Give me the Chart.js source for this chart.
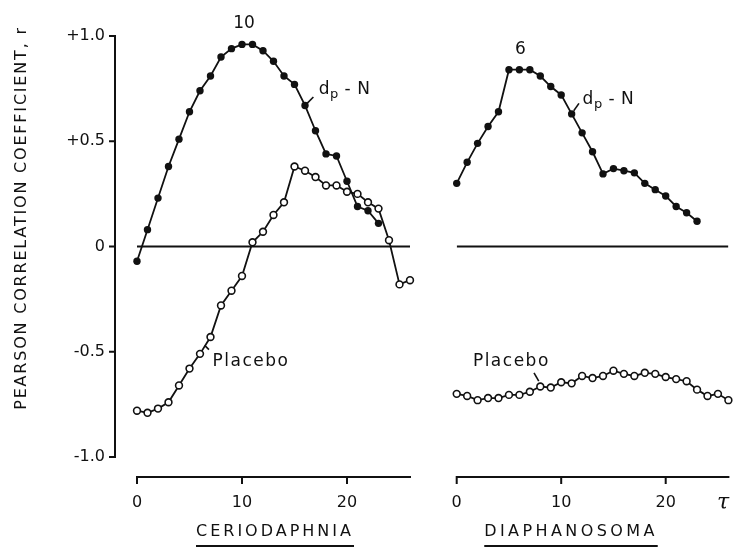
<!DOCTYPE html>
<html>
<head>
<meta charset="utf-8">
<title>Pearson correlation vs lag</title>
<script src="https://cdn.jsdelivr.net/npm/chart.js@4.4.1/dist/chart.umd.min.js"></script>
<style>
  html, body { margin: 0; padding: 0; background: #fff; }
  #wrap { position: relative; width: 734px; height: 548px; overflow: hidden; background: #fff; }
  #wrap canvas { position: absolute; top: 0; }
  #left { left: 0; }
  #right { left: 420px; }
</style>
</head>
<body>
<div id="wrap">
  <canvas id="left" width="420" height="548" style="width:420px;height:548px"></canvas>
  <canvas id="right" width="314" height="548" style="width:314px;height:548px"></canvas>
</div>
<script>
  // lag (tau) values, one step per point
  const lags = [0, 1, 2, 3, 4, 5, 6, 7, 8, 9, 10, 11, 12, 13, 14, 15, 16, 17, 18, 19, 20, 21, 22, 23, 24, 25, 26];

  // Ceriodaphnia: dp-N (filled) and placebo (open)
  const ceriodaphniaDpN = [-0.07, 0.08, 0.23, 0.38, 0.51, 0.64, 0.74, 0.81, 0.90, 0.94, 0.96, 0.96,
    0.93, 0.88, 0.81, 0.77, 0.67, 0.55, 0.44, 0.43, 0.31, 0.19, 0.17, 0.11];
  const ceriodaphniaPlacebo = [-0.78, -0.79, -0.77, -0.74, -0.66, -0.58, -0.51, -0.43, -0.28, -0.21, -0.14,
    0.02, 0.07, 0.15, 0.21, 0.38, 0.36, 0.33, 0.29, 0.29, 0.26, 0.25, 0.21, 0.18, 0.03, -0.18, -0.16];

  // Diaphanosoma: dp-N (filled) and placebo (open)
  const diaphanosomaDpN = [0.30, 0.40, 0.49, 0.57, 0.64, 0.84, 0.84, 0.84, 0.81, 0.76, 0.72, 0.63,
    0.54, 0.45, 0.345, 0.37, 0.36, 0.35, 0.30, 0.27, 0.24, 0.19, 0.16, 0.12];
  const diaphanosomaPlacebo = [-0.70, -0.71, -0.73, -0.72, -0.72, -0.705, -0.705, -0.69, -0.665, -0.67, -0.645,
    -0.65, -0.615, -0.625, -0.615, -0.59, -0.605, -0.615, -0.60, -0.605, -0.62, -0.63, -0.64, -0.68, -0.71, -0.70, -0.73];

  const lagRange = [0, 26];
  const xTickValues = [0, 10, 20];
  const yTickValues = [-1, -0.5, 0, 0.5, 1];
  const yTickLabels = ['-1.0', '-0.5', '0', '+0.5', '+1.0'];

  const INK = '#111';
  const FAMILY = '"DejaVu Sans", sans-serif';

  const toPoints = (values) => values.map((v, i) => ({ x: lags[i], y: v }));

  // axes drawn detached from the plot, the way the figure has them
  const offsetAxes = {
    id: 'offsetAxes',
    afterDraw(chart, args, opts) {
      const { ctx, chartArea, scales: { x, y } } = chart;
      ctx.save();
      ctx.strokeStyle = INK;
      ctx.lineWidth = 2;
      ctx.lineCap = 'square';
      const ay = chartArea.bottom + opts.xGap;
      ctx.beginPath();
      ctx.moveTo(x.getPixelForValue(x.min), ay);
      ctx.lineTo(x.getPixelForValue(x.max), ay);
      x.ticks.forEach(t => {
        const px = x.getPixelForValue(t.value);
        ctx.moveTo(px, ay);
        ctx.lineTo(px, ay + 6);
      });
      if (opts.yAxis) {
        const ax = chartArea.left - opts.yGap;
        ctx.moveTo(ax, y.getPixelForValue(y.max));
        ctx.lineTo(ax, y.getPixelForValue(y.min));
        y.ticks.forEach(t => {
          const py = y.getPixelForValue(t.value);
          ctx.moveTo(ax - 5, py);
          ctx.lineTo(ax, py);
        });
      }
      ctx.stroke();
      ctx.restore();
    }
  };

  // in-plot labels and their little leader strokes, placed in data units
  const notes = {
    id: 'notes',
    afterDraw(chart, args, opts) {
      const { ctx, scales: { x, y } } = chart;
      ctx.save();
      ctx.fillStyle = INK;
      ctx.strokeStyle = INK;
      ctx.lineWidth = 1.6;
      ctx.textBaseline = 'middle';
      (opts.leaders || []).forEach(l => {
        ctx.beginPath();
        ctx.moveTo(x.getPixelForValue(l[0]), y.getPixelForValue(l[1]));
        ctx.lineTo(x.getPixelForValue(l[2]), y.getPixelForValue(l[3]));
        ctx.stroke();
      });
      (opts.labels || []).forEach(n => {
        let px = x.getPixelForValue(n.x);
        const py = y.getPixelForValue(n.y);
        ctx.letterSpacing = (n.spacing || 0) + 'px';
        ctx.textAlign = n.align || 'left';
        n.parts.forEach(p => {
          ctx.font = p.size + 'px ' + FAMILY;
          ctx.fillText(p.text, px, py + (p.dy || 0));
          px += ctx.measureText(p.text).width;
        });
      });
      ctx.restore();
    }
  };

  const dpNParts = [{ text: 'd', size: 17 }, { text: 'p', size: 13, dy: 5 }, { text: ' - N', size: 17 }];

  function panelConfig(p) {
    return {
      type: 'line',
      data: {
        datasets: [
          {
            data: toPoints(p.placebo),
            borderColor: INK, borderWidth: 1.8,
            pointRadius: 3.4, pointBackgroundColor: '#fff', pointBorderColor: INK, pointBorderWidth: 1.6,
            tension: 0, clip: false
          },
          {
            data: toPoints(p.dpN),
            borderColor: INK, borderWidth: 1.8,
            pointRadius: 3.7, pointBackgroundColor: INK, pointBorderColor: INK, pointBorderWidth: 0,
            tension: 0, clip: false
          },
          {
            data: lagRange.map(v => ({ x: v, y: 0 })),
            borderColor: INK, borderWidth: 2, pointRadius: 0, tension: 0
          }
        ]
      },
      options: {
        responsive: false,
        animation: false,
        events: [],
        layout: { padding: p.padding },
        plugins: {
          legend: { display: false },
          tooltip: { enabled: false },
          offsetAxes: { xGap: 20, yGap: 22, yAxis: p.showY },
          notes: { labels: p.labels, leaders: p.leaders }
        },
        scales: {
          x: {
            type: 'linear', min: lagRange[0], max: lagRange[1],
            grid: { display: false, drawTicks: false },
            border: { display: false },
            ticks: { padding: 36, color: INK, font: { family: FAMILY, size: 16 }, maxRotation: 0 },
            afterBuildTicks: s => { s.ticks = xTickValues.map(v => ({ value: v })); },
            afterFit: s => { s.height = 91; s.paddingLeft = 0; s.paddingRight = 0; }
          },
          y: {
            display: p.showY,
            min: -1, max: 1,
            grid: { display: false, drawTicks: false },
            border: { display: false },
            ticks: {
              padding: 32, color: INK, font: { family: FAMILY, size: 16 },
              callback: (v, i) => yTickLabels[i]
            },
            afterBuildTicks: s => { s.ticks = yTickValues.map(v => ({ value: v })); },
            afterFit: s => { s.width = p.showY ? 137 : 0; s.paddingTop = 0; s.paddingBottom = 0; }
          }
        }
      },
      plugins: [offsetAxes, notes]
    };
  }

  // page texts that sit outside the plots
  const frameText = {
    id: 'frameText',
    afterDraw(chart, args, opts) {
      const { ctx } = chart;
      ctx.save();
      ctx.fillStyle = INK;
      ctx.strokeStyle = INK;
      (opts.items || []).forEach(t => {
        ctx.font = (t.font || '') + ' ' + t.size + 'px ' + (t.family || FAMILY);
        ctx.letterSpacing = (t.spacing || 0) + 'px';
        ctx.textAlign = 'center';
        ctx.textBaseline = 'middle';
        ctx.save();
        ctx.translate(t.x, t.y);
        if (t.rotate) ctx.rotate(t.rotate);
        ctx.fillText(t.text, 0, 0);
        if (t.underline) {
          const w = ctx.measureText(t.text).width;
          ctx.lineWidth = 1.8;
          ctx.beginPath();
          ctx.moveTo(-w / 2, t.underline);
          ctx.lineTo(w / 2, t.underline);
          ctx.stroke();
        }
        ctx.restore();
      });
      ctx.restore();
    }
  };

  const leftCfg = panelConfig({
    dpN: ceriodaphniaDpN,
    placebo: ceriodaphniaPlacebo,
    showY: true,
    padding: { left: 0, right: 10, top: 36, bottom: 0 },
    labels: [
      { x: 10.2, y: 1.06, align: 'center', parts: [{ text: '10', size: 17 }] },
      { x: 17.3, y: 0.745, spacing: 0.5, parts: dpNParts },
      { x: 7.2, y: -0.545, spacing: 1.5, parts: [{ text: 'Placebo', size: 17 }] }
    ],
    leaders: [[16.2, 0.68, 16.8, 0.71], [6.45, -0.47, 6.85, -0.49]]
  });
  leftCfg.options.plugins.frameText = {
    items: [
      { text: 'PEARSON CORRELATION COEFFICIENT, r', x: 22, y: 218, size: 16, spacing: 1.8, rotate: -Math.PI / 2 },
      { text: 'CERIODAPHNIA', x: 275, y: 532, size: 16, spacing: 3, underline: 14 }
    ]
  };
  leftCfg.plugins.push(frameText);

  const rightCfg = panelConfig({
    dpN: diaphanosomaDpN,
    placebo: diaphanosomaPlacebo,
    showY: false,
    padding: { left: 36.7, right: 2.5, top: 36, bottom: 0 },
    labels: [
      { x: 6.1, y: 0.935, align: 'center', parts: [{ text: '6', size: 17 }] },
      { x: 12.05, y: 0.70, spacing: 0.5, parts: dpNParts },
      { x: 1.55, y: -0.545, spacing: 1.5, parts: [{ text: 'Placebo', size: 17 }] }
    ],
    leaders: [[11.2, 0.645, 11.7, 0.68], [7.4, -0.6, 7.85, -0.64]]
  });
  rightCfg.options.plugins.frameText = {
    items: [
      { text: 'DIAPHANOSOMA', x: 151, y: 532, size: 16, spacing: 3.4, underline: 14 },
      { text: '\u03c4', x: 303, y: 503, size: 22, family: '"DejaVu Serif", serif', font: 'italic' }
    ]
  };
  rightCfg.plugins.push(frameText);

  new Chart(document.getElementById('left'), leftCfg);
  new Chart(document.getElementById('right'), rightCfg);
</script>
</body>
</html>
